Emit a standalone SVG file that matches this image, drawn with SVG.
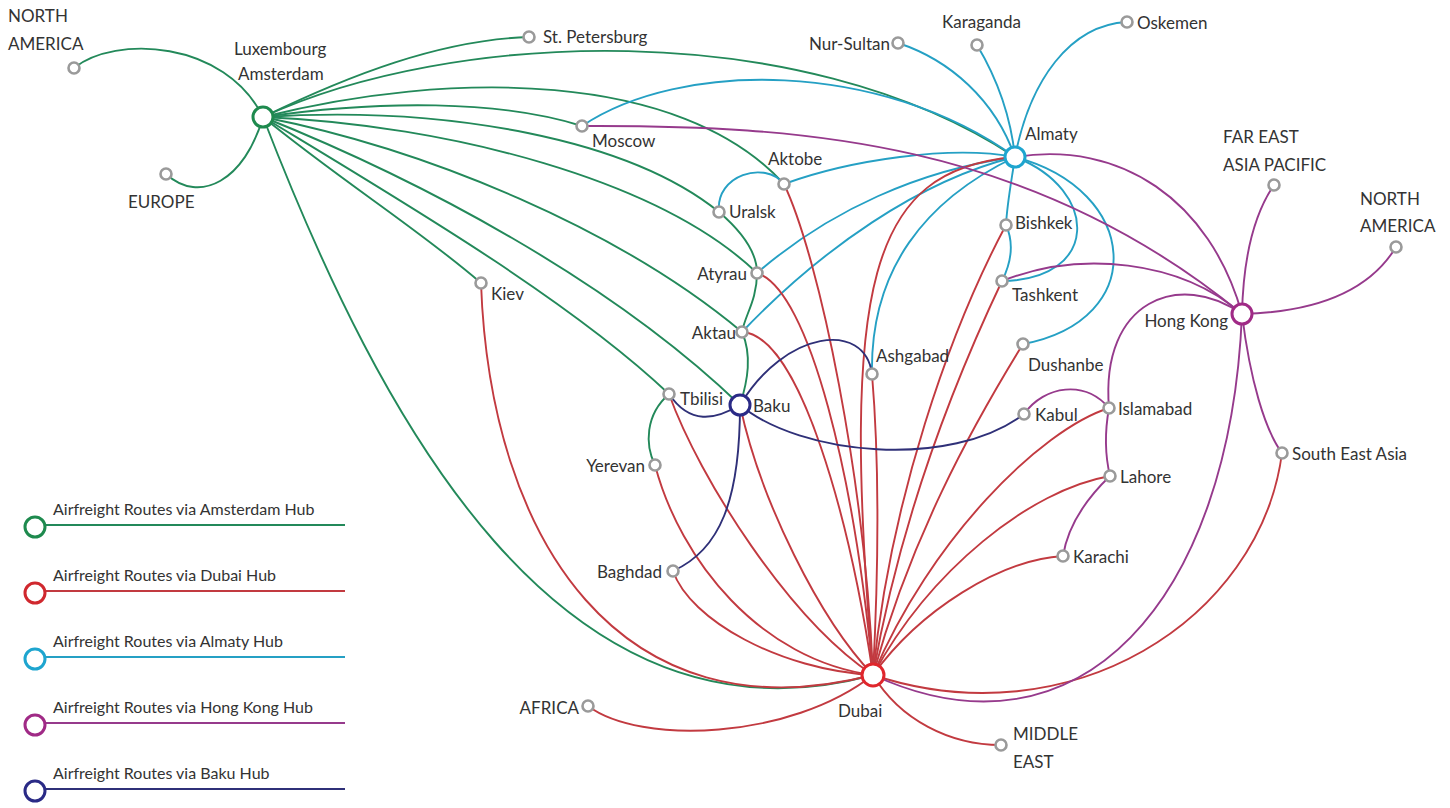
<svg xmlns="http://www.w3.org/2000/svg" width="1450" height="808" viewBox="0 0 1450 808">
<style>
path{fill:none;stroke-width:1.9}
.g{stroke:#23895a}.r{stroke:#c23a40}.c{stroke:#25a0c4}.p{stroke:#963a8c}.n{stroke:#2f3078}
.node circle{fill:#fff;stroke:#9a9a9a;stroke-width:2.6}
.hub circle{fill:#fff;stroke-width:3}
text{font-family:Lato,"Liberation Sans",sans-serif;font-size:17px;fill:#333}
#legend text{font-size:16px}
</style>
<rect width="1450" height="808" fill="#fff"/>
<g id="connectors">
<!-- green -->
<path class="g" d="M263,117 C225,40 115,35 74,68"/>
<path class="g" d="M263,117 C245,180 200,205 166,174"/>
<path class="g" d="M263,117 C350,75 440,40 529,37"/>
<path class="g" d="M263,117 C450,30 800,15 1015,157"/>
<path class="g" d="M263,117 C450,70 680,70 784,184"/>
<path class="g" d="M263,117 C380,100 500,100 582,126"/>
<path class="g" d="M263,117 C450,105 630,140 719,212"/>
<path class="g" d="M263,117 C450,125 660,180 757,273"/>
<path class="g" d="M263,117 C430,150 620,230 742,332"/>
<path class="g" d="M263,117 C420,180 610,280 740,405"/>
<path class="g" d="M263,117 C400,200 570,300 669,394"/>
<path class="g" d="M263,117 C340,180 420,230 481,283"/>
<path class="g" d="M263,117 C380,420 560,760 873,675"/>
<path class="g" d="M719,212 C740,230 757,250 757,273"/>
<path class="g" d="M757,273 C757,300 745,315 742,332"/>
<path class="g" d="M742,332 C752,355 748,380 740,405"/>
<path class="g" d="M669,394 C645,415 645,445 655,465"/>
<!-- cyan -->
<path class="c" d="M898,43 C950,60 995,100 1015,157"/>
<path class="c" d="M977,45 C995,75 1010,110 1015,157"/>
<path class="c" d="M1127,22 C1070,25 1030,80 1015,157"/>
<path class="c" d="M582,126 C680,60 880,60 1015,157"/>
<path class="c" d="M784,184 C850,160 950,145 1015,157"/>
<path class="c" d="M719,212 C715,175 765,160 784,184"/>
<path class="c" d="M757,273 C830,210 920,170 1015,157"/>
<path class="c" d="M742,332 C820,250 920,180 1015,157"/>
<path class="c" d="M872,374 C870,270 925,200 1015,157"/>
<path class="c" d="M1015,157 C1010,190 1007,205 1006,225"/>
<path class="c" d="M1006,225 C1015,245 1010,265 1002,281"/>
<path class="c" d="M1015,157 C1100,190 1100,280 1002,281"/>
<path class="c" d="M1015,157 C1140,190 1150,320 1023,344"/>
<!-- red -->
<path class="r" d="M481,283 C490,540 620,740 873,675"/>
<path class="r" d="M588,706 C640,745 790,740 873,675"/>
<path class="r" d="M655,465 C680,560 760,660 873,675"/>
<path class="r" d="M673,571 C690,620 780,670 873,675"/>
<path class="r" d="M669,394 C700,480 790,620 873,675"/>
<path class="r" d="M740,405 C760,500 820,620 873,675"/>
<path class="r" d="M742,332 C800,335 850,520 873,675"/>
<path class="r" d="M757,273 C810,290 855,480 873,675"/>
<path class="r" d="M784,184 C820,260 865,480 873,675"/>
<path class="r" d="M872,374 C880,470 878,580 873,675"/>
<path class="r" d="M1015,157 C870,170 840,280 873,675"/>
<path class="r" d="M1006,225 C950,330 890,500 873,675"/>
<path class="r" d="M1002,281 C955,380 900,520 873,675"/>
<path class="r" d="M1023,344 C970,430 910,540 873,675"/>
<path class="r" d="M1109,408 C1040,430 930,540 873,675"/>
<path class="r" d="M1110,476 C1030,490 930,570 873,675"/>
<path class="r" d="M1063,556 C1000,560 920,610 873,675"/>
<path class="r" d="M1282,453 C1260,620 1070,740 873,675"/>
<path class="r" d="M873,675 C900,720 950,745 1001,745"/>
<!-- purple -->
<path class="p" d="M582,126 C800,125 1030,140 1242,314"/>
<path class="p" d="M1015,157 C1120,140 1210,200 1242,314"/>
<path class="p" d="M1274,185 C1250,220 1243,270 1242,314"/>
<path class="p" d="M1242,314 C1320,312 1370,290 1396,247"/>
<path class="p" d="M1002,281 C1080,250 1180,260 1242,314"/>
<path class="p" d="M1109,408 C1100,300 1180,270 1242,314"/>
<path class="p" d="M1109,408 C1105,430 1105,455 1110,476"/>
<path class="p" d="M1110,476 C1085,500 1068,525 1063,556"/>
<path class="p" d="M1024,414 C1045,385 1085,380 1109,408"/>
<path class="p" d="M1242,314 C1250,380 1265,430 1282,453"/>
<path class="p" d="M1242,314 C1230,600 1080,770 873,675"/>
<!-- navy -->
<path class="n" d="M669,394 C690,425 715,420 740,405"/>
<path class="n" d="M740,405 C785,330 865,320 872,374"/>
<path class="n" d="M740,405 C800,455 950,470 1024,414"/>
<path class="n" d="M740,405 C740,500 720,550 673,571"/>
</g>
<g id="hub-amsterdam" class="hub"><circle cx="263" cy="117" r="10" stroke="#1e8a4e"/><text x="234" y="55">Luxembourg</text><text x="238" y="80">Amsterdam</text></g>
<g id="hub-almaty" class="hub"><circle cx="1015" cy="157" r="10" stroke="#1ea5cf"/><text x="1025" y="140">Almaty</text></g>
<g id="hub-hongkong" class="hub"><circle cx="1242" cy="314" r="10" stroke="#a02a86"/><text x="1228" y="327" text-anchor="end">Hong Kong</text></g>
<g id="hub-baku" class="hub"><circle cx="740" cy="405" r="10" stroke="#2a2a86"/><text x="753" y="412">Baku</text></g>
<g id="hub-dubai" class="hub"><circle cx="873" cy="675" r="11" stroke="#e0262c"/><text x="838" y="717">Dubai</text></g>
<g id="n-northamerica-w" class="node"><circle cx="74" cy="68" r="5.5"/><text x="8" y="22">NORTH</text><text x="8" y="50">AMERICA</text></g>
<g id="n-europe" class="node"><circle cx="166" cy="174" r="5.5"/><text x="128" y="208">EUROPE</text></g>
<g id="n-stpetersburg" class="node"><circle cx="529" cy="37" r="5.5"/><text x="543" y="43">St. Petersburg</text></g>
<g id="n-moscow" class="node"><circle cx="582" cy="126" r="5.5"/><text x="592" y="147">Moscow</text></g>
<g id="n-aktobe" class="node"><circle cx="784" cy="184" r="5.5"/><text x="768" y="165">Aktobe</text></g>
<g id="n-uralsk" class="node"><circle cx="719" cy="212" r="5.5"/><text x="729" y="218">Uralsk</text></g>
<g id="n-atyrau" class="node"><circle cx="757" cy="273" r="5.5"/><text x="747" y="280" text-anchor="end">Atyrau</text></g>
<g id="n-aktau" class="node"><circle cx="742" cy="332" r="5.5"/><text x="736" y="339" text-anchor="end">Aktau</text></g>
<g id="n-kiev" class="node"><circle cx="481" cy="283" r="5.5"/><text x="491" y="300">Kiev</text></g>
<g id="n-tbilisi" class="node"><circle cx="669" cy="394" r="5.5"/><text x="680" y="405">Tbilisi</text></g>
<g id="n-yerevan" class="node"><circle cx="655" cy="465" r="5.5"/><text x="645" y="472" text-anchor="end">Yerevan</text></g>
<g id="n-baghdad" class="node"><circle cx="673" cy="571" r="5.5"/><text x="662" y="578" text-anchor="end">Baghdad</text></g>
<g id="n-africa" class="node"><circle cx="588" cy="706" r="5.5"/><text x="579" y="714" text-anchor="end">AFRICA</text></g>
<g id="n-middleeast" class="node"><circle cx="1001" cy="745" r="5.5"/><text x="1013" y="740">MIDDLE</text><text x="1013" y="768">EAST</text></g>
<g id="n-karachi" class="node"><circle cx="1063" cy="556" r="5.5"/><text x="1073" y="563">Karachi</text></g>
<g id="n-lahore" class="node"><circle cx="1110" cy="476" r="5.5"/><text x="1120" y="483">Lahore</text></g>
<g id="n-islamabad" class="node"><circle cx="1109" cy="408" r="5.5"/><text x="1118" y="415">Islamabad</text></g>
<g id="n-kabul" class="node"><circle cx="1024" cy="414" r="5.5"/><text x="1035" y="421">Kabul</text></g>
<g id="n-dushanbe" class="node"><circle cx="1023" cy="344" r="5.5"/><text x="1028" y="371">Dushanbe</text></g>
<g id="n-ashgabad" class="node"><circle cx="872" cy="374" r="5.5"/><text x="876" y="362">Ashgabad</text></g>
<g id="n-tashkent" class="node"><circle cx="1002" cy="281" r="5.5"/><text x="1012" y="301">Tashkent</text></g>
<g id="n-bishkek" class="node"><circle cx="1006" cy="225" r="5.5"/><text x="1015" y="229">Bishkek</text></g>
<g id="n-nursultan" class="node"><circle cx="898" cy="43" r="5.5"/><text x="890" y="50" text-anchor="end">Nur-Sultan</text></g>
<g id="n-karaganda" class="node"><circle cx="977" cy="45" r="5.5"/><text x="942" y="28">Karaganda</text></g>
<g id="n-oskemen" class="node"><circle cx="1127" cy="22" r="5.5"/><text x="1137" y="29">Oskemen</text></g>
<g id="n-fareast" class="node"><circle cx="1274" cy="185" r="5.5"/><text x="1223" y="143">FAR EAST</text><text x="1223" y="171">ASIA PACIFIC</text></g>
<g id="n-northamerica-e" class="node"><circle cx="1396" cy="247" r="5.5"/><text x="1360" y="205">NORTH</text><text x="1360" y="232">AMERICA</text></g>
<g id="n-southeastasia" class="node"><circle cx="1282" cy="453" r="5.5"/><text x="1292" y="460">South East Asia</text></g>
<g id="legend">
<path class="g" d="M45,525 H345"/><circle cx="35" cy="527" r="10" fill="#fff" stroke="#1e8a4e" stroke-width="3"/><text x="53" y="515">Airfreight Routes via Amsterdam Hub</text>
<path class="r" d="M45,591 H345"/><circle cx="35" cy="593" r="10" fill="#fff" stroke="#d0282e" stroke-width="3"/><text x="53" y="581">Airfreight Routes via Dubai Hub</text>
<path class="c" d="M45,657 H345"/><circle cx="35" cy="659" r="10" fill="#fff" stroke="#1ea5cf" stroke-width="3"/><text x="53" y="647">Airfreight Routes via Almaty Hub</text>
<path class="p" d="M45,723 H345"/><circle cx="35" cy="725" r="10" fill="#fff" stroke="#a02a86" stroke-width="3"/><text x="53" y="713">Airfreight Routes via Hong Kong Hub</text>
<path class="n" d="M45,789 H345"/><circle cx="35" cy="791" r="10" fill="#fff" stroke="#2a2a86" stroke-width="3"/><text x="53" y="779">Airfreight Routes via Baku Hub</text>
</g>
</svg>
